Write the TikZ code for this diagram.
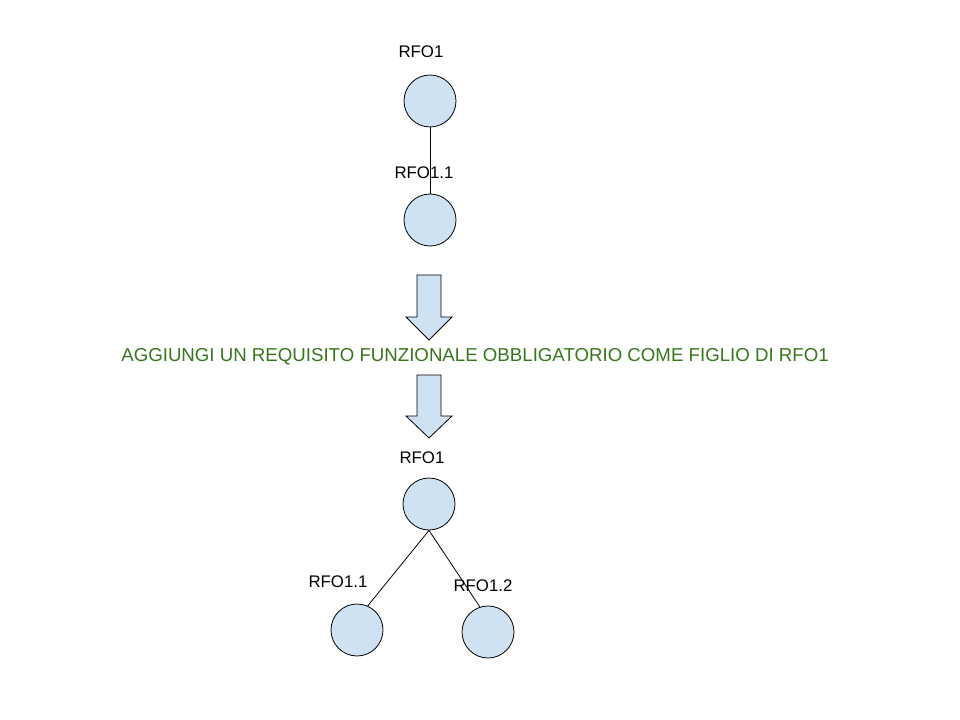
\documentclass[tikz,border=0pt]{standalone}
\usepackage{fontspec}
\setmainfont{Liberation Sans}
\definecolor{nodefill}{HTML}{CFE2F3}
\definecolor{msggreen}{HTML}{38761D}
\begin{document}
\begin{tikzpicture}[x=0.75pt,y=-0.75pt,
  req/.style={circle,draw=black,fill=nodefill,minimum size=39pt,inner sep=0pt,line width=0.6pt},
  lbl/.style={inner sep=0pt,font=\fontsize{12.6}{14}\selectfont},
  link/.style={draw=black,line width=0.6pt},
  bigarrow/.style={draw=black,fill=nodefill,line width=0.6pt,line join=miter}]
\useasboundingbox (0,0) rectangle (960,720);
\fill[white] (0,0) rectangle (960,720);
% top tree
\node[req] (a1) at (430,101) {};
\node[req] (a2) at (430,220) {};
\draw[link] (a1.south) -- (a2.north);
\node[lbl] (la1) at (421,52) {RFO1};
\node[lbl] (la2) at (424,173) {RFO1.1};
% arrows
\draw[bigarrow] (417,275) -- (441,275) -- (441,317) -- (452,317) -- (429,340) -- (406,317) -- (417,317) -- cycle;
\node[inner sep=0pt,text=msggreen,font=\fontsize{14}{16}\selectfont] (msg) at (475,357) {AGGIUNGI UN REQUISITO FUNZIONALE OBBLIGATORIO COME FIGLIO DI RFO1};
\draw[bigarrow] (417,375) -- (441,375) -- (441,416) -- (452,416) -- (429,438) -- (406,416) -- (417,416) -- cycle;
% bottom tree
\node[req] (b1) at (429,504) {};
\node[req] (b2) at (357,630) {};
\node[req] (b3) at (488,632) {};
\draw[link] (b1.south) -- (b2.66);
\draw[link] (b1.south) -- (b3.108);
\node[lbl] (lb1) at (422,458) {RFO1};
\node[lbl] (lb2) at (338,582) {RFO1.1};
\node[lbl] (lb3) at (483,586) {RFO1.2};
\end{tikzpicture}
\end{document}
